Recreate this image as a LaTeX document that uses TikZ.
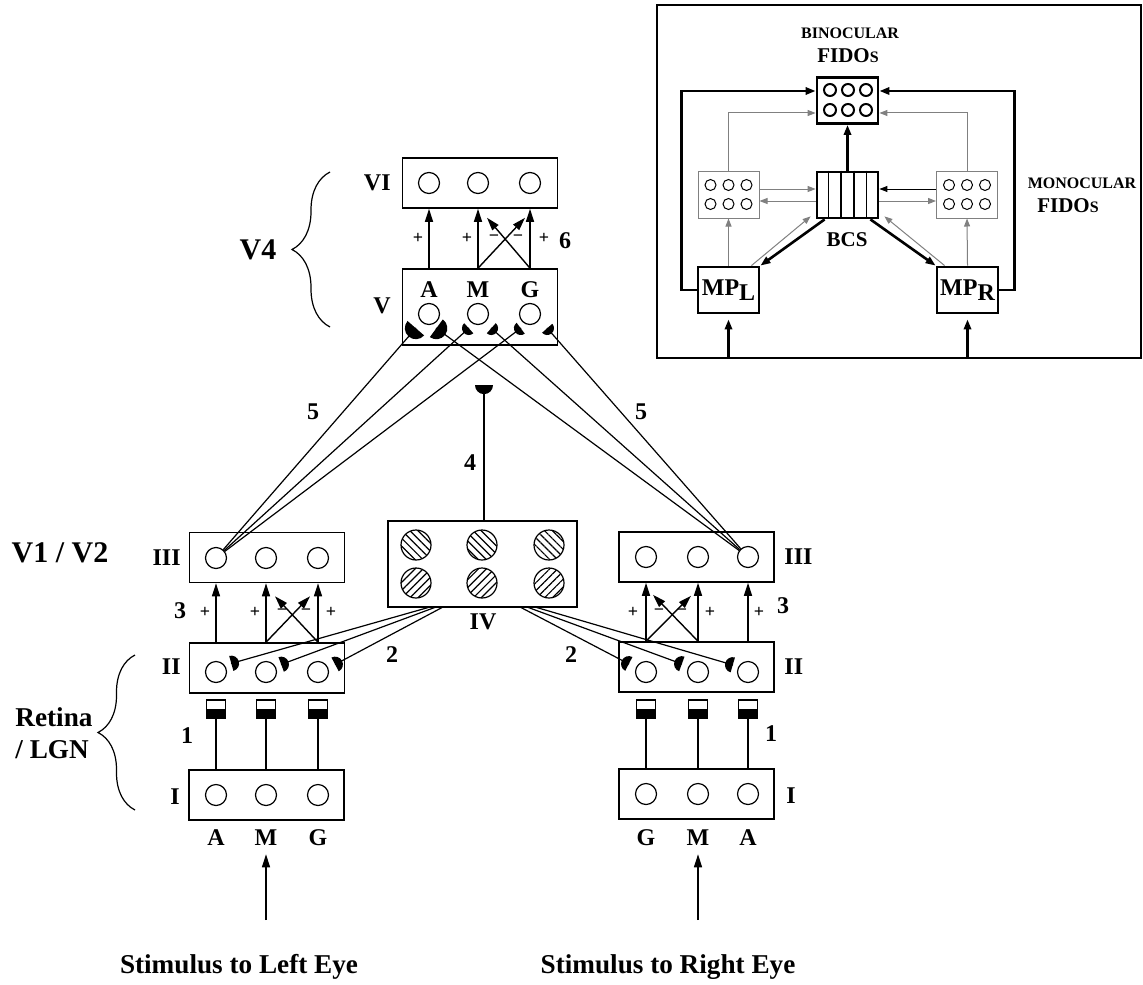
\documentclass[tikz,border=0pt]{standalone}
\usepackage{fontspec}
\setmainfont{Liberation Serif}
\usetikzlibrary{arrows.meta,calc,decorations.pathreplacing,decorations.markings,patterns.meta}

\tikzset{
  layer/.style={draw, line width=0.8pt, minimum width=77.5pt, minimum height=25pt, inner sep=0pt},
  cell/.style={draw, circle, line width=0.6pt, minimum size=10.5pt, inner sep=0pt},
  hatched/.style={draw, circle, line width=0.6pt, minimum size=15pt, inner sep=0pt,
    pattern={Lines[angle=#1, distance=2.8pt, line width=0.6pt]}},
  sq/.style={draw, line width=0.6pt, minimum width=9.5pt, minimum height=9pt, inner sep=0pt,
    path picture={\fill (path picture bounding box.west) rectangle (path picture bounding box.south east);}},
  wire/.style={line width=0.6pt},
  fwd/.style={-{Triangle[length=6.5pt,width=4pt]}, line width=0.7pt},
  syn/.style={wire, postaction={decorate}, decoration={markings,
    mark=at position 0.999 with {\fill (0pt,#1) arc[start angle=90, end angle=270, radius=#1] -- cycle;}}},
  lab/.style={font=\fontsize{12}{14}\selectfont\bfseries, inner sep=0pt},
  area/.style={font=\fontsize{15}{17}\selectfont\bfseries, inner sep=0pt},
  stim/.style={font=\fontsize{13.6}{16}\selectfont\bfseries, inner sep=0pt},
  sgn/.style={font=\fontsize{9}{10}\selectfont\bfseries, inner sep=0pt},
  curly/.style={decorate, decoration={brace, amplitude=#1}, line width=0.6pt},
  % inset
  fido/.style={draw, line width=1.4pt, minimum width=30.5pt, minimum height=23pt, inner sep=0pt},
  mono/.style={draw=gray, line width=0.5pt, minimum width=30.5pt, minimum height=23pt, inner sep=0pt},
  dot/.style={draw, circle, line width=0.5pt, minimum size=5.5pt, inner sep=0pt},
  strong/.style={-{Triangle[length=5pt,width=3.6pt]}, line width=1.3pt},
  faint/.style={-{Triangle[length=4pt,width=3pt]}, gray, line width=0.5pt},
  tiny/.style={font=\fontsize{8}{9}\selectfont\bfseries, inner sep=0pt},
  small/.style={font=\fontsize{10.5}{12}\selectfont\bfseries, inner sep=0pt}
}

\begin{document}
\begin{tikzpicture}[x=0.5pt,y=-0.5pt]
\useasboundingbox (0,0) rectangle (1143,984);

% V4 : layers VI and V
\node[layer] (six) at (480,183) {};
\node[layer, minimum height=38pt] (five) at (480,307) {};
\foreach \n/\x/\t in {a/429/A,b/478/M,c/530/G} {
  \node[cell] (six\n) at (\x,183) {};
  \node[cell] (five\n) at (\x,314) {};
  \node[lab] (vlab\n) at (\x,290) {\t};
}
\node[lab, anchor=east] (sixname) at (391,183) {VI};
\node[lab, anchor=east] (fivename) at (391,306) {V};

\foreach \n in {a,b,c}
  \draw[fwd] (five.north -| six\n) -- (six.south -| six\n);
\draw[fwd] (five.north -| sixb) -- ($(six.south -| sixc)+(-5,9)$);
\draw[fwd] (five.north -| sixc) -- ($(six.south -| sixb)+(9,9)$);
\foreach \x/\s in {418/+,467/+,494/−,518/−,544/+}
  \node[sgn] (up\x) at (\x,238) {\s};
\node[lab] (six6) at (565,241) {6};

\draw[curly=19pt] (330,327) -- (330,172);
\node[area] (vfour) at (258,250) {V4};

% V1 / V2 and retina, left eye
\node[layer] (lthree) at (267,557.5) {};
\node[layer] (ltwo) at (267,668) {};
\node[layer] (lone) at (266.5,795) {};
\foreach \n/\x in {a/216,b/266,c/318} {
  \node[cell] (lthree\n) at (\x,558) {};
  \node[cell] (ltwo\n) at (\x,672) {};
  \node[cell] (lone\n) at (\x,795) {};
  \node[sq] (lsq\n) at (\x,709) {};
  \draw[wire] (lsq\n.south) -- (lsq\n.south |- lone.north);
}
\foreach \n in {a,b,c}
  \draw[fwd] (ltwo.north -| lthree\n) -- (lthree.south -| lthree\n);
\draw[fwd] (ltwo.north -| lthreeb) -- ($(lthree.south -| lthreec)+(-8,13)$);
\draw[fwd] (ltwo.north -| lthreec) -- ($(lthree.south -| lthreeb)+(9,13)$);
\foreach \x/\s in {205/+,255/+,282/−,306/−,331/+}
  \node[sgn] (lsg\x) at (\x,612) {\s};

\node[lab, anchor=east] (lthreename) at (181,558) {III};
\node[lab, anchor=east] (ltwoname) at (181,667) {II};
\node[lab, anchor=east] (lonename) at (180,797) {I};
\node[lab] (lthree3) at (180,611) {3};
\node[lab] (lone1) at (187,736) {1};
\node[area] (vonetwo) at (60,553) {V1 / V2};
\draw[curly=18.5pt] (135,810) -- (135,655);
\node[stim, align=left] (retina) at (54,733) {Retina\\/ LGN};

% right eye
\node[layer] (rthree) at (696.5,557) {};
\node[layer] (rtwo) at (696.5,667) {};
\node[layer] (rone) at (696.5,794) {};
\foreach \n/\x in {a/646,b/698,c/748} {
  \node[cell] (rthree\n) at (\x,557) {};
  \node[cell] (rtwo\n) at (\x,672) {};
  \node[cell] (rone\n) at (\x,794) {};
  \node[sq] (rsq\n) at (\x,709) {};
  \draw[wire] (rsq\n.south) -- (rsq\n.south |- rone.north);
}
\foreach \n in {a,b,c}
  \draw[fwd] (rtwo.north -| rthree\n) -- (rthree.south -| rthree\n);
\draw[fwd] (rtwo.north -| rthreea) -- ($(rthree.south -| rthreeb)+(-7,13)$);
\draw[fwd] (rtwo.north -| rthreeb) -- ($(rthree.south -| rthreea)+(7,12)$);
\foreach \x/\s in {633/+,659/−,682/−,710/+,759/+}
  \node[sgn] (rsg\x) at (\x,612) {\s};

\node[lab, anchor=west] (rthreename) at (784,557) {III};
\node[lab, anchor=west] (rtwoname) at (784,667) {II};
\node[lab, anchor=west] (ronename) at (786,796) {I};
\node[lab] (rthree3) at (783,606) {3};
\node[lab] (rone1) at (771,734) {1};

% IV
\node[layer, minimum width=94.5pt, minimum height=43pt] (four) at (482.5,564) {};
\foreach \n/\x in {a/416,b/482,c/549} {
  \node[hatched=-45] (fourt\n) at (\x,545) {};
  \node[hatched=45] (fourb\n) at (\x,583) {};
}
\node[lab] (fourname) at (483,622) {IV};
\coordinate (tip4) at (484,385);
\draw[syn=4.5pt] (four.north -| tip4) -- (tip4);
\node[lab] (four4) at (470,463) {4};

% 2 : IV to II
\draw[syn=3.9pt] (430,607) -- (231,663.5);
\draw[syn=3.9pt] (436,607) -- (281,664.5);
\draw[syn=3.9pt] (443,607) -- (335,664.5);
\draw[syn=3.9pt] (535,607) -- (733,665);
\draw[syn=3.9pt] (527,607) -- (682,664);
\draw[syn=3.9pt] (520,607) -- (629,664);
\node[lab] (ltwo2) at (392,655) {2};
\node[lab] (rtwo2) at (571,655) {2};

% 5 : III to V
\coordinate (sAl) at (416,328);
\coordinate (sAr) at (436,328);
\coordinate (sMl) at (469,328);
\coordinate (sMr) at (491,328);
\coordinate (sGl) at (521,328);
\coordinate (sGr) at (547,328);
\draw[syn=5.5pt] (lthreea) -- (sAl);
\draw[syn=3.4pt] (lthreea) -- (sMl);
\draw[syn=3.4pt] (lthreea) -- (sGl);
\draw[syn=5.5pt] (rthreec) -- (sAr);
\draw[syn=3.4pt] (rthreec) -- (sMr);
\draw[syn=3.4pt] (rthreec) -- (sGr);
\node[lab] (lfive) at (313,412) {5};
\node[lab] (rfive) at (641,412) {5};

% inputs
\foreach \n/\x/\t in {a/216/A,b/266/M,c/318/G}
  \node[lab] (lin\n) at (\x,838) {\t};
\foreach \n/\x/\t in {a/646/G,b/698/M,c/748/A}
  \node[lab] (rin\n) at (\x,838) {\t};
\draw[fwd] (linb.south |- 0,920) -- ($(linb.south)+(0,8)$);
\draw[fwd] (rinb.south |- 0,920) -- ($(rinb.south)+(0,8)$);
\node[stim] (lstim) at (239,967) {Stimulus to Left Eye};
\node[stim] (rstim) at (668,967) {Stimulus to Right Eye};

% inset
\draw[line width=0.6pt] (657,5) rectangle (1141,358);
\coordinate (fb) at (0,358);
\node[fido] (bin) at (847.5,100.5) {};
\foreach \x in {830,848,866}
  \foreach \y in {90,110}
    \node[dot, line width=1pt, minimum size=6pt] (b\x\y) at (\x,\y) {};
\node[fido] (bcs) at (847.5,195) {};
\foreach \i in {1,...,4}
  \draw[line width=0.8pt] ($(bcs.north west)!\i/5!(bcs.north east)$) -- ($(bcs.south west)!\i/5!(bcs.south east)$);
\node[mono] (lmono) at (728.5,195) {};
\node[mono] (rmono) at (967,195) {};
\foreach \x in {-18,0,18}
  \foreach \y in {-10,9} {
    \node[dot] (lm\x\y) at ($(lmono)+(\x,\y)$) {};
    \node[dot] (rm\x\y) at ($(rmono)+(\x,\y)$) {};
  }
\node[fido, font=\fontsize{12}{14}\selectfont\bfseries] (mpl) at (728.5,290) {MP\raisebox{-0.45ex}{L}};
\node[fido, font=\fontsize{12}{14}\selectfont\bfseries] (mpr) at (967.5,290) {MP\raisebox{-0.45ex}{R}};

\draw[strong] (mpl.west) -- ++(-15,0) |- ($(bin.west)+(0,-9.5)$);
\draw[strong] (mpr.east) -- ++(15,0) |- ($(bin.east)+(0,-9.5)$);
\draw[faint] (lmono.north) |- ($(bin.west)+(0,12.5)$);
\draw[faint] (rmono.north) |- ($(bin.east)+(0,12.5)$);
\draw[strong] (bcs.north) -- (bin.south);
\draw[faint] ($(lmono.east)+(0,-6)$) -- ($(bcs.west)+(0,-6)$);
\draw[faint] ($(bcs.west)+(0,6)$) -- ($(lmono.east)+(0,6)$);
\draw[faint, draw=black] ($(rmono.west)+(0,-6)$) -- ($(bcs.east)+(0,-6)$);
\draw[faint] ($(bcs.east)+(0,6)$) -- ($(rmono.west)+(0,6)$);
\draw[faint] (mpl.north) -- (lmono.south);
\draw[faint] (mpr.north) -- (rmono.south);
\draw[strong] ($(bcs.south west)+(9,0)$) -- (mpl.north east);
\draw[strong] ($(bcs.south east)+(-9,0)$) -- (mpr.north west);
\draw[faint] ($(mpl.north east)+(-9,0)$) -- ($(bcs.south west)+(-5,-3)$);
\draw[faint] ($(mpr.north west)+(9,0)$) -- ($(bcs.south east)+(5,-3)$);
\draw[strong, shorten >=2.5pt] (mpl.south |- fb) -- (mpl.south);
\draw[strong, shorten >=2.5pt] (mpr.south |- fb) -- (mpr.south);

\node[tiny] (binname) at (850,33) {BINOCULAR};
\node[small] (binfido) at (848,56) {FIDO{\fontsize{8}{9}\selectfont S}};
\node[tiny] (mononame) at (1082,183) {MONOCULAR};
\node[small] (monofido) at (1068,206) {FIDO{\fontsize{8}{9}\selectfont S}};
\node[small] (bcsname) at (847,240) {BCS};
\end{tikzpicture}
\end{document}
